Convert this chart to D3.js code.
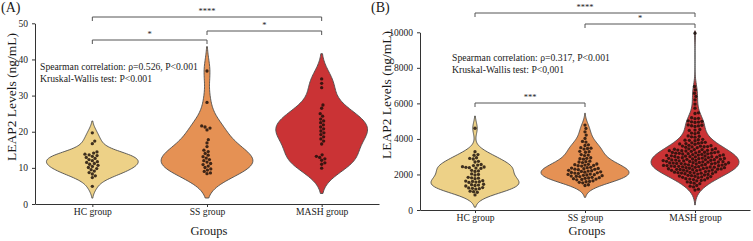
<!DOCTYPE html>
<html>
<head>
<meta charset="utf-8">
<title>LEAP2 levels by group</title>
<style>
  html, body { margin: 0; padding: 0; background: #fff; }
  svg { display: block; font-family: "Liberation Serif", "Times New Roman", serif; }
</style>
<script src="https://d3js.org/d3.v7.min.js"></script>
</head>
<body>
<svg id="chart" width="753" height="241"></svg>
<script>
// ---- data ----
const groups = ["HC group", "SS group", "MASH group"];
const groupColors = ["#EDD187", "#E59154", "#CA3335"];

// panel A, ng/mL
const hcA = [19.7, 17.4, 16.7, 14.4, 14.1, 13.8, 13.6, 13.4, 13.2, 12.9, 12.6, 12.3, 12.0,
  11.7, 11.5, 11.2, 11.0, 10.7, 10.4, 10.1, 9.8, 9.5, 9.1, 8.7, 8.3, 7.8, 7.3, 4.9];
const ssA = [36.8, 28.1, 21.6, 21.3, 21.0, 20.5, 17.8, 16.9, 15.9, 14.9, 14.5, 14.0, 13.5,
  13.1, 12.7, 12.3, 12.0, 11.6, 11.2, 10.9, 10.5, 10.1, 9.7, 9.4, 9.0, 8.6, 8.4];
const mashA = [34.6, 33.4, 32.2, 27.4, 26.5, 25.0, 24.3, 23.5, 23.0, 22.5, 21.9, 21.3, 20.8,
  20.2, 19.7, 19.2, 18.6, 18.0, 17.4, 16.6, 13.6, 13.2, 12.9, 12.5, 12.1, 11.4, 11.0, 9.9];

// panel B, ng/mL
const hcB = [4600, 3280, 3120, 3080, 2940, 2900, 2870, 2740, 2700, 2560, 2530, 2500,
  2440, 2420, 2400, 2380, 2360, 2340, 2230, 2200, 2170, 2030, 2000, 1970,
  1840, 1810, 1790, 1760, 1650, 1630, 1610, 1590, 1570, 1550,
  1450, 1420, 1400, 1380, 1350, 1260, 1240, 1220, 1200, 1180, 1060, 1030, 1000, 850];
const ssB = [4780, 4590, 4400, 4215, 4030, 3860, 3820, 3670, 3630, 3510, 3480, 3460, 3430,
  3300, 3280, 3250, 3120, 3090, 3060, 2940, 2910, 2890, 2860, 2750, 2720, 2700, 2670,
  2590, 2570, 2550, 2530, 2510, 2490, 2470, 2400, 2380, 2360, 2340, 2320, 2300, 2290, 2270,
  2230, 2210, 2190, 2170, 2150, 2130, 2110, 2090, 2080, 2060,
  2020, 2000, 1990, 1970, 1950, 1930, 1910, 1900, 1880,
  1840, 1820, 1800, 1780, 1760, 1740, 1720, 1700, 1640, 1610, 1590, 1560, 1530, 1420, 1380];
const mashB = [9950, 6950, 6760, 6570, 6390, 6200, 5960, 5730, 5470, 5430,
  5190, 5160, 5140, 5020, 4990, 4960, 4950, 4930,
  4790, 4770, 4740, 4730, 4700, 4530, 4500, 4480, 4350, 4330, 4300,
  4170, 4150, 4120, 4100, 3980, 3960, 3930, 3920, 3900,
  3810, 3790, 3780, 3760, 3740, 3720, 3700,
  3640, 3620, 3600, 3590, 3570, 3560, 3550, 3530, 3510,
  3450, 3440, 3420, 3400, 3400, 3390, 3370, 3360, 3340, 3340, 3320, 3300,
  3280, 3270, 3250, 3240, 3230, 3220, 3200, 3200, 3190, 3170, 3160, 3150, 3130, 3120,
  3100, 3090, 3070, 3060, 3050, 3040, 3030, 3010, 3000, 3000, 2990, 2970, 2960, 2950, 2940,
  2920, 2910, 2900, 2890, 2870, 2860, 2850, 2840, 2830, 2820, 2810, 2800, 2790, 2780, 2770, 2760, 2740,
  2730, 2720, 2710, 2700, 2690, 2680, 2670, 2660, 2650, 2640, 2630, 2620, 2610, 2600, 2590, 2580, 2570, 2560,
  2540, 2530, 2520, 2510, 2500, 2490, 2480, 2470, 2460, 2450, 2440, 2430, 2420, 2410, 2400, 2390, 2380, 2370,
  2350, 2340, 2320, 2310, 2300, 2290, 2280, 2270, 2260, 2250, 2240, 2230, 2220, 2200, 2190,
  2160, 2140, 2130, 2110, 2100, 2090, 2080, 2070, 2050, 2040, 2020, 2000,
  1970, 1950, 1930, 1910, 1900, 1880, 1860, 1840, 1820, 1800,
  1760, 1740, 1710, 1690, 1660, 1640, 1580, 1550, 1510, 1480, 1380, 1340, 1300, 1170, 1120];

const ticksA = [0, 10, 20, 30, 40, 50];
const ticksB = [0, 2000, 4000, 6000, 8000, 10000];

const statsA = ["Spearman correlation: ρ=0.526, P<0.001", "Kruskal-Wallis test: P<0.001"];
const statsB = ["Spearman correlation: ρ=0.317, P<0.001", "Kruskal-Wallis test: P<0,001"];

const pairsA = [["HC group", "MASH group", "****"], ["SS group", "MASH group", "*"], ["HC group", "SS group", "*"]];
const pairsB = [["HC group", "MASH group", "****"], ["SS group", "MASH group", "*"], ["HC group", "SS group", "***"]];

// ---- drawing ----
const svg = d3.select("#chart");
const ink = "#1a1a1a";

// gaussian kde, scott bandwidth, cut = 2 (like seaborn)
function kde(values) {
  const n = values.length;
  const bw = d3.deviation(values) * Math.pow(n, -0.2);
  const lo = d3.min(values) - 2 * bw, hi = d3.max(values) + 2 * bw;
  const pts = d3.range(100).map(i => {
    const v = lo + (hi - lo) * i / 99;
    return { v: v, d: d3.sum(values, s => Math.exp(-0.5 * ((v - s) / bw) ** 2)) };
  });
  const m = d3.max(pts, p => p.d);
  pts.forEach(p => p.d = p.d / m);
  return pts;
}

function swarm(values, y, r) {
  const d = 2 * r + 0.2;
  const pts = values.map(v => ({ v: v, py: y(v) })).sort((a, b) => a.v - b.v);
  const placed = [];
  pts.forEach(p => {
    const near = placed.filter(q => Math.abs(q.py - p.py) < d);
    const cands = [0];
    near.forEach(q => {
      const dx = Math.sqrt(d * d - (q.py - p.py) ** 2);
      cands.push(q.dx + dx, q.dx - dx);
    });
    cands.sort((a, b) => Math.abs(a) - Math.abs(b));
    p.dx = cands.find(c => near.every(q => (c - q.dx) ** 2 + (q.py - p.py) ** 2 >= d * d - 1e-6));
    placed.push(p);
  });
  return pts;
}

function drawPanel(cfg, id) {
  const x = d3.scalePoint().domain(groups).range([cfg.left, cfg.right]).padding(0.5);
  const y = d3.scaleLinear().domain([0, cfg.yMax]).range([cfg.bottom, cfg.top]);
  const g = svg.append("g");
  const halfW = x.step() * 0.4;

  svg.append("clipPath").attr("id", "clip" + id)
    .append("rect")
    .attr("x", cfg.left).attr("y", cfg.top - 1.5)
    .attr("width", cfg.right - cfg.left).attr("height", cfg.bottom - cfg.top + 1.5);

  const plot = g.append("g").attr("clip-path", "url(#clip" + id + ")");

  cfg.series.forEach((vals, i) => {
    const cx = x(groups[i]);
    const area = d3.area()
      .y(p => y(p.v))
      .x0(p => cx - p.d * halfW)
      .x1(p => cx + p.d * halfW);
    plot.append("path")
      .datum(kde(vals))
      .attr("d", area)
      .attr("fill", groupColors[i])
      .attr("stroke", "#4c4c4c")
      .attr("stroke-width", 0.9);
  });

  cfg.series.forEach((vals, i) => {
    const cx = x(groups[i]);
    plot.selectAll(null)
      .data(swarm(vals, y, 1.65))
      .enter()
      .append("circle")
      .attr("cx", p => cx + p.dx)
      .attr("cy", p => p.py)
      .attr("r", 1.65)
      .attr("fill", "#1a0d08")
      .attr("fill-opacity", 0.82);
  });

  const yAxis = g.append("g")
    .attr("transform", "translate(" + cfg.left + ",0)")
    .call(d3.axisLeft(y).tickValues(cfg.ticks).tickFormat(d3.format("d"))
      .tickSize(3).tickSizeOuter(0).tickPadding(4));
  const xAxis = g.append("g")
    .attr("transform", "translate(0," + cfg.bottom + ")")
    .call(d3.axisBottom(x).tickSize(3).tickSizeOuter(0).tickPadding(1.5));
  yAxis.attr("font-size", 9.5);
  xAxis.attr("font-size", 9.6);
  [yAxis, xAxis].forEach(a => {
    a.attr("font-family", null).attr("color", "#333");
    a.selectAll("text").attr("fill", ink);
  });

  // significance brackets
  cfg.pairs.forEach((p, k) => {
    const x1 = x(p[0]), x2 = x(p[1]), yb = cfg.bracketY[k];
    g.append("path")
      .attr("d", "M" + x1 + "," + (yb + 4) + "V" + yb + "H" + x2 + "V" + (yb + 4))
      .attr("fill", "none")
      .attr("stroke", "#555")
      .attr("stroke-width", 1);
    g.append("text")
      .attr("x", (x1 + x2) / 2)
      .attr("y", yb - 3)
      .attr("text-anchor", "middle")
      .attr("font-size", 8.5)
      .attr("fill", ink)
      .text(p[2]);
  });

  g.selectAll(".stat")
    .data(cfg.stats)
    .enter()
    .append("text")
    .attr("x", cfg.statX)
    .attr("y", (s, i) => cfg.statY + i * 12)
    .attr("font-size", 9.7)
    .attr("fill", ink)
    .text(s => s);

  g.append("text")
    .attr("x", cfg.letterX).attr("y", 12)
    .attr("font-size", 14).attr("fill", ink)
    .text(cfg.letter);

  g.append("text")
    .attr("transform", "translate(" + cfg.labelX + "," + cfg.labelY + ") rotate(-90)")
    .attr("text-anchor", "middle")
    .attr("font-size", 13.5).attr("fill", ink)
    .text("LEAP2 Levels (ng/mL)");

  g.append("text")
    .attr("x", (cfg.left + cfg.right) / 2 + 2).attr("y", 235)
    .attr("text-anchor", "middle")
    .attr("font-size", 12.5).attr("fill", ink)
    .text("Groups");
}

drawPanel({
  left: 35, right: 379, top: 23.3, bottom: 204, yMax: 50, ticks: ticksA,
  series: [hcA, ssA, mashA], pairs: pairsA, bracketY: [17, 31, 40],
  stats: statsA, statX: 40, statY: 70, letter: "(A)", letterX: 1,
  labelX: 16, labelY: 97
}, "A");

drawPanel({
  left: 420, right: 750, top: 32.3, bottom: 210, yMax: 10000, ticks: ticksB,
  series: [hcB, ssB, mashB], pairs: pairsB, bracketY: [13, 24, 103],
  stats: statsB, statX: 452, statY: 61, letter: "(B)", letterX: 371,
  labelX: 391, labelY: 95
}, "B");
</script>
</body>
</html>
